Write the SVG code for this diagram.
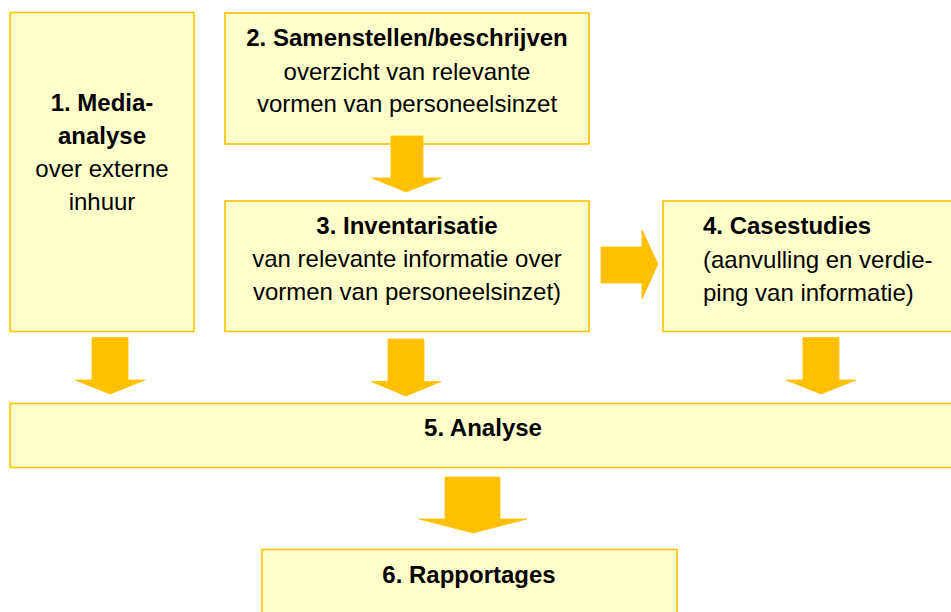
<svg xmlns="http://www.w3.org/2000/svg" width="951" height="612" viewBox="0 0 951 612">
<style>
.box{fill:#FFFFCC;stroke:#FFC000;stroke-width:1.6}
.arr{fill:#FFC000;stroke:#FFC000;stroke-width:0.8;stroke-linejoin:miter}
text{font-family:"Liberation Sans",Arial,sans-serif;font-size:24px;fill:#000}
.b{font-weight:bold}
.c{text-anchor:middle}
</style>
<rect width="951" height="612" fill="#fff"/>
<g id="node1">
<rect class="box" x="10" y="12.5" width="184" height="319"/>
<text class="c b" x="102" y="111">1. Media-</text>
<text class="c b" x="102" y="144">analyse</text>
<text class="c" x="102" y="177">over externe</text>
<text class="c" x="102" y="210">inhuur</text>
</g>
<g id="node2">
<rect class="box" x="225" y="13" width="364" height="131"/>
<text class="c b" x="407" y="46">2. Samenstellen/beschrijven</text>
<text class="c" x="407" y="80">overzicht van relevante</text>
<text class="c" x="407" y="112">vormen van personeelsinzet</text>
</g>
<g id="node3">
<rect class="box" x="225" y="201" width="364" height="130.5"/>
<text class="c b" x="407" y="234">3. Inventarisatie</text>
<text class="c" x="407" y="267">van relevante informatie over</text>
<text class="c" x="407" y="300">vormen van personeelsinzet)</text>
</g>
<g id="node4">
<rect class="box" x="663" y="201" width="292" height="130.5"/>
<text class="b" x="703" y="234">4. Casestudies</text>
<text x="703" y="268">(aanvulling en verdie-</text>
<text x="703" y="301">ping van informatie)</text>
</g>
<g id="node5">
<rect class="box" x="10" y="403.5" width="945" height="64"/>
<text class="c b" x="483" y="436">5. Analyse</text>
</g>
<g id="node6">
<rect class="box" x="262" y="549.5" width="415" height="70"/>
<text class="c b" x="469" y="583">6. Rapportages</text>
</g>
<g id="connectors">
<polygon class="arr" points="391,136 423,136 423,178 441,178 406,192 372,178 391,178"/>
<polygon class="arr" points="601,247 642,247 642,230 658,264 642,299 642,283 601,283"/>
<polygon class="arr" points="92,337.5 128,337.5 128,380 145,380 110,394 75,380 92,380"/>
<polygon class="arr" points="388,339 424,339 424,381.5 441,381.5 406,396 371,381.5 388,381.5"/>
<polygon class="arr" points="803,337.5 839,337.5 839,380 856,380 821,394 786,380 803,380"/>
<polygon class="arr" points="445,477 500,477 500,519 527,519 473,533 419,519 445,519"/>
</g>
</svg>
